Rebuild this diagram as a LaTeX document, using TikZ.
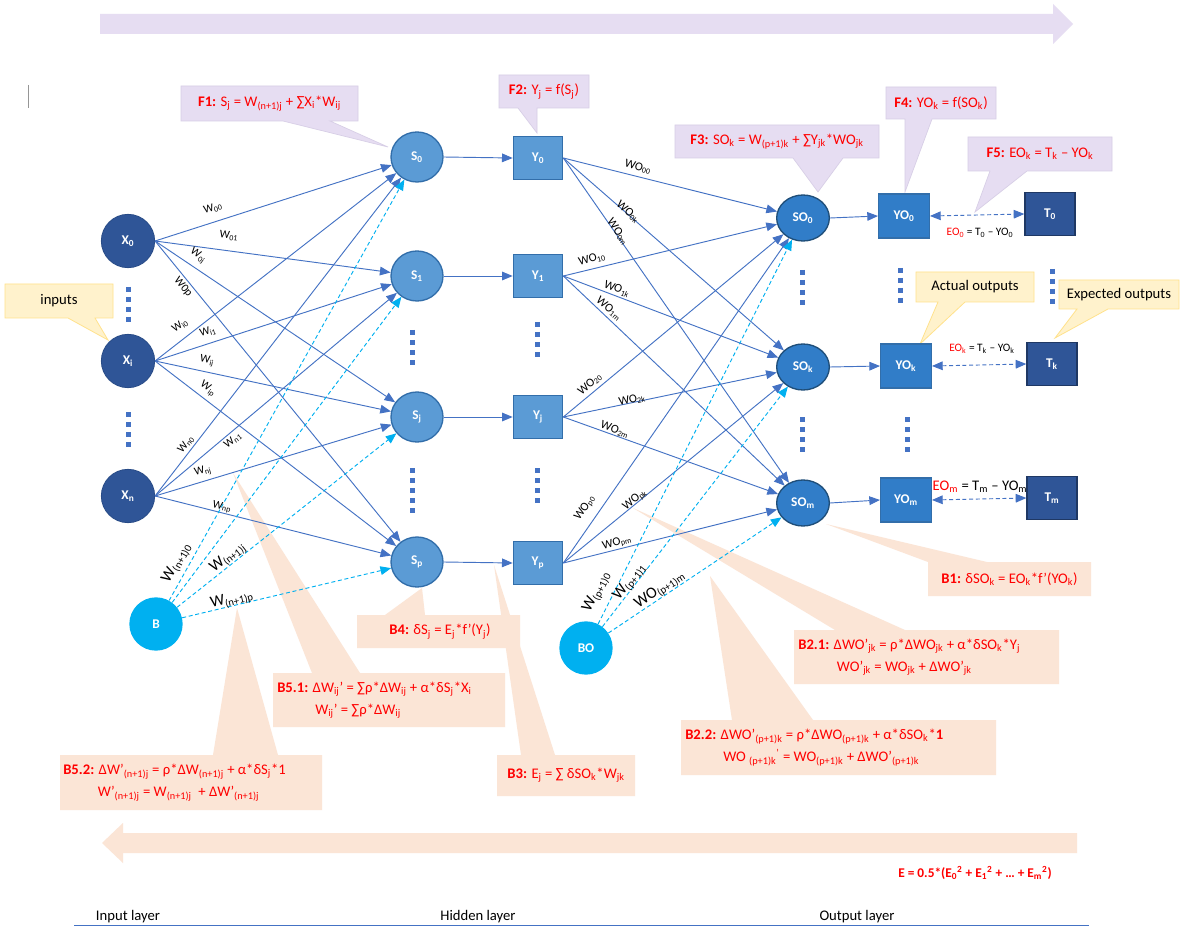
\documentclass[tikz,border=0pt]{standalone}
\usepackage{fontspec}
\setmainfont{Carlito}
\usetikzlibrary{arrows.meta,shapes.geometric}
\definecolor{lav}{RGB}{230,221,242}
\definecolor{lavb}{RGB}{215,206,230}
\definecolor{peach}{RGB}{251,229,214}
\definecolor{yel}{RGB}{255,242,204}
\definecolor{yelb}{RGB}{255,226,140}
\definecolor{eblue}{RGB}{68,114,196}
\definecolor{cyb}{RGB}{0,176,240}
\definecolor{xblue}{RGB}{47,85,151}
\definecolor{xbord}{RGB}{40,75,135}
\definecolor{sblue}{RGB}{91,155,213}
\definecolor{sbord}{RGB}{50,110,170}
\definecolor{soblue}{RGB}{49,125,200}
\definecolor{sobord}{RGB}{31,78,121}
\definecolor{tbord}{RGB}{31,56,100}
\definecolor{fred}{RGB}{255,0,0}
\definecolor{grayl}{RGB}{150,150,150}
\newcommand\sbs[1]{\textsubscript{#1}}
\newcommand\sps[1]{\textsuperscript{#1}}
\newcommand\fsz[2]{\fontsize{#1}{#2}\selectfont}
\begin{document}
\begin{tikzpicture}[x=0.75pt,y=-0.75pt,
  nd/.style={inner sep=0pt, text=white, font=\fsz{10}{12}\bfseries},
  xnode/.style={nd, circle, fill=xblue, draw=xbord, line width=0.6pt, minimum size=40pt},
  snode/.style={nd, ellipse, fill=sblue, draw=sbord, line width=1pt, minimum width=39pt, minimum height=37.5pt},
  ybox/.style={nd, rectangle, fill=sblue, draw=sbord, line width=1pt, minimum width=37pt, minimum height=32pt},
  sonode/.style={nd, ellipse, fill=soblue, draw=sobord, line width=1pt, minimum width=39.5pt, minimum height=34.5pt},
  yobox/.style={nd, rectangle, fill=soblue, draw=sbord, line width=1pt, minimum width=38pt, minimum height=33pt},
  tbox/.style={nd, rectangle, fill=xblue, draw=tbord, line width=1pt, minimum width=37.5pt, minimum height=32pt},
  bnode/.style={nd, circle, fill=cyb, minimum size=40pt},
  conn/.style={draw=eblue, line width=0.7pt, -{Triangle[length=8pt,width=6.5pt]}},
  bconn/.style={draw=cyb, line width=0.7pt, dash pattern=on 3pt off 2pt, -{Triangle[length=8pt,width=6.5pt]}},
  pairc/.style={draw=eblue, line width=0.7pt, dash pattern=on 3pt off 2pt, {Triangle[length=8pt,width=6.5pt]}-{Triangle[length=8pt,width=6.5pt]}},
  wl/.style={inner sep=0pt, font=\fsz{8.5}{9}},
  wol/.style={inner sep=0pt, font=\fsz{9}{10}},
  bl/.style={inner sep=0pt, font=\fsz{12}{13}},
  dotcol/.style={draw=eblue, line width=3.75pt, dash pattern=on 3.75pt off 3.75pt},
  ftext/.style={inner sep=0pt, text=fred, font=\fsz{11}{13}},
  btext/.style={inner sep=0pt, text=fred, font=\fsz{11}{16.5}, align=left},
  ytext/.style={inner sep=0pt, font=\fsz{11}{13}},
  eol/.style={inner sep=0pt, font=\fsz{8.5}{10}},
  lay/.style={inner sep=0pt, font=\fsz{11}{13}, anchor=base},
]
\useasboundingbox (0,0) rectangle (1190,938);
\fill[white] (0,0) rectangle (1190,938);

% big arrows
\fill[lav] (100,14) -- (1053,14) -- (1053,4) -- (1073,24) -- (1053,44) -- (1053,34) -- (100,34) -- cycle;
\fill[peach] (1077,833) -- (123,833) -- (123,823) -- (102,843) -- (123,863) -- (123,853) -- (1077,853) -- cycle;
\draw[grayl, line width=0.5pt] (28,85) -- (28,108);

% forward callouts
\filldraw[fill=lav, draw=lavb, line width=0.5pt] (181,86) -- (358,86) -- (358,121) -- (330,121) -- (388,147) -- (283,121) -- (181,121) -- cycle;
\node[ftext] (f1) at (269.5,103.5) {\textbf{F1:} S\sbs{j} = W\sbs{(n+1)j} + ∑X\sbs{i}*W\sbs{ij}};
\filldraw[fill=lav, draw=lavb, line width=0.5pt] (499,75) -- (589,75) -- (589,108) -- (537,108) -- (537,133) -- (518,108) -- (499,108) -- cycle;
\node[ftext] (f2) at (544,91.5) {\textbf{F2:} Y\sbs{j} = f(S\sbs{j})};
\filldraw[fill=lav, draw=lavb, line width=0.5pt] (675,125) -- (879,125) -- (879,158) -- (843,158) -- (818,192) -- (793,158) -- (675,158) -- cycle;
\node[ftext] (f3) at (777,141.5) {\textbf{F3:} SO\sbs{k} = W\sbs{(p+1)k} + ∑Y\sbs{jk}*WO\sbs{jk}};
\filldraw[fill=lav, draw=lavb, line width=0.5pt] (886,87) -- (996,87) -- (996,119) -- (932,119) -- (905,192) -- (905,119) -- (886,119) -- cycle;
\node[ftext] (f4) at (941,103) {\textbf{F4:} YO\sbs{k} = f(SO\sbs{k})};
\filldraw[fill=lav, draw=lavb, line width=0.5pt] (968,137) -- (1112,137) -- (1112,171) -- (1027,171) -- (975,212) -- (990,171) -- (968,171) -- cycle;
\node[ftext] (f5) at (1040,154) {\textbf{F5:} EO\sbs{k} = T\sbs{k} – YO\sbs{k}};

% yellow callouts
\filldraw[fill=yel, draw=yelb, line width=0.6pt] (5,284) -- (113,284) -- (113,318) -- (95,318) -- (108,340) -- (68,318) -- (5,318) -- cycle;
\node[ytext] (inp) at (59,301) {inputs};
\filldraw[fill=yel, draw=yelb, line width=0.6pt] (916,272) -- (1034,272) -- (1034,302) -- (965,302) -- (920,344) -- (938,302) -- (916,302) -- cycle;
\node[ytext] (act) at (975,287) {Actual outputs};
\filldraw[fill=yel, draw=yelb, line width=0.6pt] (1059,280) -- (1179,280) -- (1179,309) -- (1108,309) -- (1055,338) -- (1077,309) -- (1059,309) -- cycle;
\node[ytext] (exp) at (1119,294.5) {Expected outputs};

% backward callouts
\fill[peach] (928,562) -- (826,524) -- (987,562) -- (1091,562) -- (1091,596) -- (928,596) -- cycle;
\node[ftext] (b1) at (1009.5,579) {\textbf{B1:} δSO\sbs{k} = EO\sbs{k}*f’(YO\sbs{k})};
\fill[peach] (794,630) -- (835,630) -- (633,508) -- (905,630) -- (1059,630) -- (1059,684) -- (794,684) -- cycle;
\node[btext, anchor=west] (b21) at (798,657) {\textbf{B2.1:} ΔWO’\sbs{jk} = ρ*ΔWO\sbs{jk} + α*δSO\sbs{k}*Y\sbs{j}\\\hspace*{29pt}WO’\sbs{jk} = WO\sbs{jk} + ΔWO’\sbs{jk}};
\fill[peach] (681,720) -- (732,720) -- (710,576) -- (813,720) -- (996,720) -- (996,775) -- (681,775) -- cycle;
\node[btext, anchor=west] (b22) at (685,747.5) {\textbf{B2.2:} ΔWO’\sbs{(p+1)k} = ρ*ΔWO\sbs{(p+1)k} + α*δSO\sbs{k}*\textbf{1}\\\hspace*{28.5pt}WO \sbs{(p+1)k}\sps{'} = WO\sbs{(p+1)k} + ΔWO’\sbs{(p+1)k}};
\fill[peach] (497,755) -- (521,755) -- (494,565) -- (555,755) -- (635,755) -- (635,796) -- (497,796) -- cycle;
\node[ftext] (b3) at (566,775.5) {\textbf{B3:} E\sbs{j} = ∑ δSO\sbs{k}*W\sbs{jk}};
\fill[peach] (357,615) -- (385,615) -- (422,588) -- (425,615) -- (520,615) -- (520,648) -- (357,648) -- cycle;
\node[ftext] (b4) at (440,631.5) {\textbf{B4:} δS\sbs{j} = E\sbs{j}*f’(Y\sbs{j})};
\fill[peach] (273,673) -- (312,673) -- (233,473) -- (360,673) -- (505,673) -- (505,727) -- (273,727) -- cycle;
\node[btext, anchor=west] (b51) at (277,700) {\textbf{B5.1:} ΔW\sbs{ij}' = ∑ρ*ΔW\sbs{ij} + α*δS\sbs{j}*X\sbs{i}\\\hspace*{28.5pt}W\sbs{ij}' = ∑ρ*ΔW\sbs{ij}};
\fill[peach] (60,755) -- (213,755) -- (237,608) -- (278,755) -- (322,755) -- (322,810) -- (60,810) -- cycle;
\node[btext, anchor=west] (b52) at (63,782.5) {\textbf{B5.2:} ΔW’\sbs{(n+1)j} = ρ*ΔW\sbs{(n+1)j} + α*δS\sbs{j}*1\\\hspace*{26pt}W’\sbs{(n+1)j} = W\sbs{(n+1)j}~ + ΔW’\sbs{(n+1)j}};

% dotted columns
\draw[dotcol] (128,287) -- (128,322);
\draw[dotcol] (128,412) -- (128,447);
\draw[dotcol] (412,330) -- (412,365);
\draw[dotcol] (412,468) -- (412,513);
\draw[dotcol] (537,322) -- (537,357);
\draw[dotcol] (537,468) -- (537,503);
\draw[dotcol] (802,270) -- (802,305);
\draw[dotcol] (802,417) -- (802,452);
\draw[dotcol] (900,268) -- (900,303);
\draw[dotcol] (907,417) -- (907,452);
\draw[dotcol] (1052,269) -- (1052,304);

% nodes
\node[xnode] (X0) at (128,241) {X\sbs{0}};
\node[xnode] (Xi) at (128,361) {X\sbs{i}};
\node[xnode] (Xn) at (128,496) {X\sbs{n}};
\node[bnode] (B) at (156,624) {B};
\node[snode] (S0) at (417,157) {S\sbs{0}};
\node[snode] (S1) at (417,276) {S\sbs{1}};
\node[snode] (Sj) at (417,417) {S\sbs{j}};
\node[snode] (Sp) at (417,562) {S\sbs{p}};
\node[ybox] (Y0) at (538,158) {Y\sbs{0}};
\node[ybox] (Y1) at (538,276) {Y\sbs{1}};
\node[ybox] (Yj) at (538,417) {Y\sbs{j}};
\node[ybox] (Yp) at (538,563) {Y\sbs{p}};
\node[bnode] (BO) at (586,648) {BO};
\node[sonode] (SO0) at (803,218) {SO\sbs{0}};
\node[sonode] (SOk) at (803,367) {SO\sbs{k}};
\node[sonode] (SOm) at (803,503) {SO\sbs{m}};
\node[yobox] (YO0) at (904,216) {YO\sbs{0}};
\node[yobox] (YOk) at (906,366) {YO\sbs{k}};
\node[yobox] (YOm) at (906,500) {YO\sbs{m}};
\node[tbox] (T0) at (1050,214) {T\sbs{0}};
\node[tbox] (Tk) at (1052,364) {T\sbs{k}};
\node[tbox] (Tm) at (1052,498) {T\sbs{m}};

% input -> hidden
\foreach \a in {X0,Xi,Xn}{
  \foreach \b in {S0,S1,Sj,Sp}{
    \draw[conn] (\a.east) -- (\b);
  }
}
\foreach \b in {S0,S1,Sj,Sp}{ \draw[bconn] (B) -- (\b); }
\draw[conn] (S0.east) -- (Y0.west);
\draw[conn] (S1.east) -- (Y1.west);
\draw[conn] (Sj.east) -- (Yj.west);
\draw[conn] (Sp.east) -- (Yp.west);
% hidden -> output
\foreach \a in {Y0,Y1,Yj,Yp}{
  \foreach \b in {SO0,SOk,SOm}{
    \draw[conn] (\a.east) -- (\b);
  }
}
\foreach \b in {SO0,SOk,SOm}{ \draw[bconn] (BO) -- (\b); }
\draw[conn] (SO0.east) -- (YO0.west);
\draw[conn] (SOk.east) -- (YOk.west);
\draw[conn] (SOm.east) -- (YOm.west);
\draw[pairc] (YO0.east) -- (T0.west);
\draw[pairc] (YOk.east) -- (Tk.west);
\draw[pairc] (YOm.east) -- (Tm.west);

% error labels
\node[eol] (e0) at (980,233) {\textcolor{fred}{EO\sbs{0}} = T\sbs{0} – YO\sbs{0}};
\node[eol] (ek) at (982,349) {\textcolor{fred}{EO\sbs{k}} = T\sbs{k} – YO\sbs{k}};
\node[inner sep=0pt, font=\fsz{11}{12}] (em) at (980,487) {\textcolor{fred}{EO\sbs{m}} = T\sbs{m} – YO\sbs{m}};

% input weights
\node[wl, rotate=15] (w00) at (213,208) {W\sbs{00}};
\node[wl, rotate=-7] (w01) at (229,236) {W\sbs{01}};
\node[wl, rotate=-35] (w0j) at (198,256) {W\sbs{0j}};
\node[wl, rotate=-50] (w0p) at (183,287) {W0p};
\node[wl, rotate=35] (wi0) at (180,326) {W\sbs{i0}};
\node[wl, rotate=16] (wi1) at (208,332) {W\sbs{i1}};
\node[wl, rotate=-11] (wij) at (207,361) {W\sbs{ij}};
\node[wl, rotate=-35] (wip) at (208,389) {W\sbs{ip}};
\node[wl, rotate=50] (wn0) at (186,444) {W\sbs{n0}};
\node[wl, rotate=37] (wn1) at (233,440) {W\sbs{n1}};
\node[wl, rotate=15] (wnj) at (203,471) {W\sbs{nj}};
\node[wl, rotate=-13] (wnp) at (222,507) {W\sbs{np}};
\node[bl, rotate=60] (wb0) at (177,563) {W\sbs{(n+1)0}};
\node[bl, rotate=38] (wbj) at (228,558) {W\sbs{(n+1)j}};
\node[bl, rotate=13] (wbp) at (232,600) {W\sbs{(n+1)p}};

% output weights
\node[wol, rotate=-16] (wo00) at (638,167) {WO\sbs{00}};
\node[wol, rotate=-41] (wo0k) at (628,212) {WO\sbs{0k}};
\node[wol, rotate=-55] (wo0m) at (618,232) {WO\sbs{0m}};
\node[wol, rotate=15] (wo10) at (592,259) {WO\sbs{10}};
\node[wol, rotate=-21] (wo1k) at (617,289) {WO\sbs{1k}};
\node[wol, rotate=-40] (wo1m) at (609,309) {WO\sbs{1m}};
\node[wol, rotate=40] (wo20) at (590,384) {WO\sbs{20}};
\node[wol, rotate=12] (wo2k) at (632,400) {WO\sbs{2k}};
\node[wol, rotate=-20] (wo2m) at (615,430) {WO\sbs{2m}};
\node[wol, rotate=55] (wop0) at (585,508) {WO\sbs{p0}};
\node[wol, rotate=39] (wopk) at (635,500) {WO\sbs{pk}};
\node[wol, rotate=15] (wopm) at (617,543) {WO\sbs{pm}};
\node[bl, rotate=63] (wbo0) at (597,592) {W\sbs{(p+1)0}};
\node[bl, rotate=52] (wbo1) at (630,582) {W\sbs{(p+1)1}};
\node[bl, rotate=34] (wbom) at (660,590) {WO\sbs{(p+1)m}};

% total error and layers
\node[inner sep=0pt, text=fred, font=\fsz{10}{12}\bfseries] (etot) at (975,873) {E = 0.5*(E\sbs{0}\sps{2} + E\sbs{1}\sps{2} + … + E\sbs{m}\sps{2})};
\draw[eblue, line width=0.75pt] (74,925) -- (1089,925);
\node[lay] (lin) at (128,920) {Input layer};
\node[lay] (lhid) at (478,920) {Hidden layer};
\node[lay] (lout) at (857,920) {Output layer};
\end{tikzpicture}
\end{document}
